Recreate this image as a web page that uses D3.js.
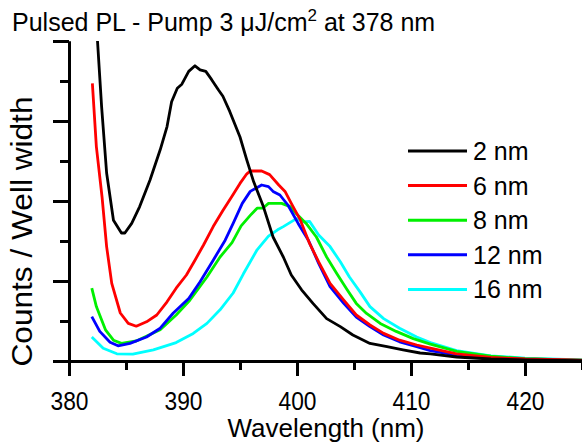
<!DOCTYPE html>
<html>
<head>
<meta charset="utf-8">
<script src="https://cdn.jsdelivr.net/npm/d3@7/dist/d3.min.js"></script>
<style>
  html, body { margin: 0; padding: 0; background: #fff; }
  svg { display: block; font-family: "Liberation Sans", Arial, sans-serif; }
</style>
</head>
<body>
<svg id="chart" width="582" height="447"></svg>
<script>
// ---------------- data ----------------
const seriesNames = ["2 nm", "6 nm", "8 nm", "12 nm", "16 nm"];
const seriesColors = ["#000000", "#ff0000", "#00f000", "#0000ff", "#00ffff"];

const wl2 = [382.0, 382.5, 382.86, 383.3, 383.9, 384.6, 384.9, 385.5, 386.2, 387.1, 388.0, 388.6, 389.0, 389.5, 389.9, 390.5, 391.05, 391.5, 392.0, 392.5, 393.1, 393.5, 394.1, 395.0, 395.6, 396.2, 397.05, 397.9, 398.8, 399.5, 400.4, 401.4, 402.6, 403.8, 404.9, 406.4, 407.9, 409.3, 410.8, 411.7, 414, 417, 420, 425];
const val2 = [5.0, 4.0, 3.18, 2.35, 1.76, 1.60, 1.60, 1.72, 1.93, 2.26, 2.64, 2.93, 3.24, 3.41, 3.46, 3.62, 3.69, 3.64, 3.62, 3.52, 3.39, 3.31, 3.12, 2.80, 2.51, 2.24, 1.93, 1.55, 1.30, 1.075, 0.89, 0.72, 0.53, 0.43, 0.325, 0.22, 0.18, 0.14, 0.10, 0.09, 0.05, 0.025, 0.015, 0.005];

const wl6 = [382.05, 382.4, 382.9, 383.3, 383.75, 384.5, 385.2, 385.9, 386.8, 387.7, 388.6, 389.4, 390.3, 391.05, 391.8, 392.65, 393.5, 394.3, 395.0, 395.6, 395.9, 396.9, 397.6, 398.4, 398.95, 399.5, 400.3, 401.1, 401.9, 402.9, 404.1, 405.2, 406.4, 407.6, 409.0, 410.5, 411.7, 414, 417, 420, 425];
const val6 = [3.47, 2.68, 2.05, 1.43, 0.97, 0.60, 0.47, 0.435, 0.49, 0.575, 0.74, 0.91, 1.075, 1.26, 1.45, 1.68, 1.88, 2.06, 2.22, 2.34, 2.375, 2.375, 2.33, 2.2, 2.12, 1.97, 1.76, 1.47, 1.24, 0.97, 0.76, 0.575, 0.45, 0.345, 0.26, 0.20, 0.16, 0.09, 0.045, 0.025, 0.01];

const wl8 = [382.0, 382.4, 383.2, 383.9, 384.6, 385.9, 388.0, 389.4, 390.6, 392.1, 393.25, 394.3, 395.1, 395.9, 396.5, 397.0, 397.5, 398.65, 399.4, 399.95, 400.8, 401.7, 402.6, 403.5, 404.4, 405.2, 406.1, 407.3, 408.7, 410.2, 411.7, 414, 417, 420, 425];
const val8 = [0.91, 0.68, 0.39, 0.26, 0.22, 0.25, 0.39, 0.575, 0.76, 1.05, 1.30, 1.48, 1.69, 1.82, 1.91, 1.91, 1.97, 1.97, 1.93, 1.84, 1.72, 1.55, 1.30, 1.09, 0.89, 0.72, 0.595, 0.47, 0.37, 0.28, 0.21, 0.12, 0.06, 0.03, 0.012];

const wl12 = [382.0, 382.7, 383.6, 384.3, 385.35, 386.8, 388.0, 389.15, 390.5, 391.5, 392.65, 393.7, 394.4, 395.2, 395.9, 396.9, 397.5, 397.9, 398.5, 399.2, 400.1, 401.0, 401.9, 402.9, 404.1, 405.2, 406.4, 407.6, 409.0, 410.5, 411.7, 414, 417, 420, 425];
const val12 = [0.555, 0.37, 0.235, 0.19, 0.22, 0.30, 0.41, 0.60, 0.78, 0.99, 1.26, 1.51, 1.72, 1.97, 2.12, 2.2, 2.18, 2.12, 2.075, 1.95, 1.72, 1.51, 1.22, 0.93, 0.72, 0.55, 0.43, 0.325, 0.24, 0.18, 0.13, 0.075, 0.035, 0.02, 0.008];

const wl16 = [382.0, 383.0, 384.2, 385.6, 387.4, 389.4, 390.9, 392.1, 393.25, 394.4, 395.3, 396.5, 397.5, 398.3, 398.8, 399.95, 400.55, 401.1, 401.9, 402.9, 403.8, 404.6, 405.5, 406.4, 407.6, 409.0, 410.5, 411.7, 414, 417, 420, 425];
const val16 = [0.30, 0.16, 0.09, 0.085, 0.14, 0.23, 0.345, 0.47, 0.64, 0.85, 1.09, 1.39, 1.56, 1.64, 1.68, 1.78, 1.74, 1.745, 1.575, 1.43, 1.24, 1.05, 0.87, 0.68, 0.53, 0.41, 0.30, 0.23, 0.13, 0.065, 0.035, 0.015];

const xMajorTicks = [380, 390, 400, 410, 420];
const xMinorTicks = [385, 395, 405, 415, 425];
const yMajorTicks = [0, 1, 2, 3, 4];
const yMinorTicks = [0.5, 1.5, 2.5, 3.5];

const titleMain = "Pulsed PL - Pump 3 \u03BCJ/cm";
const titleSup = "2";
const titleRest = " at 378 nm";
const xLabel = "Wavelength (nm)";
const yLabel = "Counts / Well width";

const seriesWl = [wl2, wl6, wl8, wl12, wl16];
const seriesVal = [val2, val6, val8, val12, val16];

// ---------------- layout ----------------
const svg = d3.select("#chart");
const L = 69, T = 41, R = 582, B = 361;

const x = d3.scaleLinear().domain([380, 425]).range([L, R]);
const y = d3.scaleLinear().domain([0, 4]).range([B, T]);

svg.append("defs").append("clipPath").attr("id", "clip")
  .append("rect").attr("x", L).attr("y", T).attr("width", R - L).attr("height", B - T);

// curves
const line = d3.line().x(d => x(d[0])).y(d => y(d[1])).curve(d3.curveLinear);
const gLines = svg.append("g").attr("clip-path", "url(#clip)");
const order = [4, 2, 3, 1, 0];
order.forEach(i => {
  const pts = seriesWl[i].map((w, k) => [w, seriesVal[i][k]]);
  gLines.append("path")
    .attr("d", line(pts))
    .attr("fill", "none")
    .attr("stroke", seriesColors[i])
    .attr("stroke-width", 2.8)
    .attr("stroke-linejoin", "round");
});

// axes
function styleAxis(g) {
  g.selectAll(".domain").attr("stroke", "#000").attr("stroke-width", 3);
  g.selectAll(".tick line").attr("stroke", "#000").attr("stroke-width", 3);
}

const xMinor = svg.append("g").attr("transform", `translate(0,${B})`)
  .call(d3.axisBottom(x).tickValues(xMinorTicks).tickSize(9).tickSizeOuter(0).tickFormat(""));
styleAxis(xMinor);
const xMajor = svg.append("g").attr("transform", `translate(0,${B})`)
  .call(d3.axisBottom(x).tickValues(xMajorTicks).tickSize(15).tickSizeOuter(0).tickFormat(d3.format("d")));
styleAxis(xMajor);
xMajor.selectAll(".tick text")
  .attr("fill", "#000").attr("font-size", 25.5)
  .attr("font-family", "Liberation Sans, Arial, sans-serif")
  .attr("y", 49).attr("dy", 0)
  .attr("textLength", 38).attr("lengthAdjust", "spacingAndGlyphs");

const yMinor = svg.append("g").attr("transform", `translate(${L},0)`)
  .call(d3.axisLeft(y).tickValues(yMinorTicks).tickSize(9).tickSizeOuter(0).tickFormat(""));
styleAxis(yMinor);
const yMajor = svg.append("g").attr("transform", `translate(${L},0)`)
  .call(d3.axisLeft(y).tickValues(yMajorTicks).tickSize(16).tickSizeOuter(0).tickFormat(""));
styleAxis(yMajor);

// title
const title = svg.append("text").attr("x", 12).attr("y", 31)
  .attr("font-size", 25).attr("fill", "#000");
title.append("tspan").text(titleMain);
title.append("tspan").attr("font-size", 17).attr("dy", -10).text(titleSup);
title.append("tspan").attr("dy", 10).text(titleRest);

// axis labels
svg.append("text").attr("x", 326).attr("y", 437).attr("text-anchor", "middle")
  .attr("font-size", 26).attr("fill", "#000").text(xLabel);
svg.append("text").attr("transform", "translate(32,231.5) rotate(-90)")
  .attr("text-anchor", "middle").attr("font-size", 29).attr("fill", "#000")
  .attr("textLength", 270).attr("lengthAdjust", "spacingAndGlyphs")
  .text(yLabel);

// legend
const legY0 = 151, legDy = 34.6;
const leg = svg.append("g");
seriesNames.forEach((name, i) => {
  const yy = legY0 + i * legDy;
  leg.append("line").attr("x1", 408).attr("x2", 467).attr("y1", yy).attr("y2", yy)
    .attr("stroke", seriesColors[i]).attr("stroke-width", 3);
  leg.append("text").attr("x", 473).attr("y", yy + 9).attr("font-size", 25)
    .attr("fill", "#000").text(name);
});
</script>
</body>
</html>
